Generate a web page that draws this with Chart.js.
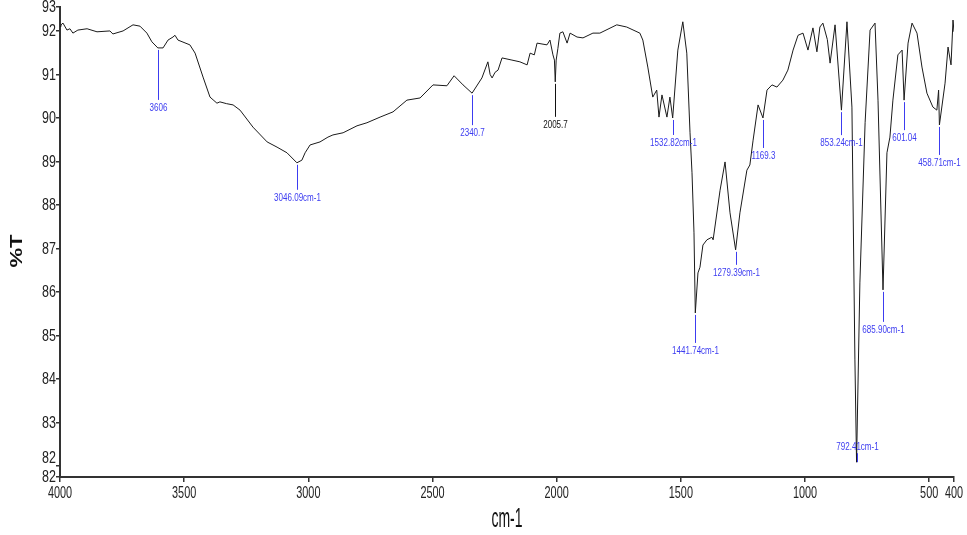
<!DOCTYPE html>
<html>
<head>
<meta charset="utf-8">
<script src="https://cdn.jsdelivr.net/npm/chart.js@4"></script>
<style>
  html, body { margin: 0; padding: 0; background: #fff; }
  #wrap { width: 967px; height: 535px; position: relative; }
</style>
</head>
<body>
<div id="wrap"><canvas id="irChart"></canvas></div>
<script>
// -- DATA
const wavenumbers = [
  4000, 3996, 3988, 3972, 3960, 3948, 3928, 3891, 3851, 3799, 3787, 3746, 3706, 3678, 3650, 3630,
  3606, 3585, 3565, 3545, 3537, 3525, 3477, 3456, 3424, 3396, 3380, 3368, 3356, 3330, 3303, 3275,
  3223, 3166, 3126, 3086, 3046.09, 3026, 3013, 2993, 2953, 2921, 2901, 2860, 2804, 2764, 2711, 2659,
  2603, 2550, 2498, 2442, 2413, 2377, 2340.7, 2301, 2277, 2268, 2260, 2248, 2236, 2220, 2180, 2148,
  2119, 2107, 2090, 2079, 2039, 2027, 2015, 2009, 2005.7, 2002, 1995, 1987, 1975, 1958, 1946, 1918,
  1894, 1854, 1826, 1758, 1718, 1665, 1653, 1633, 1613, 1597, 1588, 1576, 1556, 1544, 1532.82, 1512,
  1492, 1476, 1463, 1455, 1447, 1441.74, 1431, 1423, 1411, 1395, 1375, 1370, 1342, 1322, 1302, 1279.39,
  1262, 1234, 1222, 1209, 1189, 1169.3, 1153, 1133, 1113, 1089, 1069, 1048, 1028, 1008, 988, 968,
  952, 940, 928, 910, 899, 879, 853.24, 831, 811, 799, 792.41, 779, 758, 738, 718, 706,
  685.9, 670, 658, 646, 626, 609, 601.04, 585, 569, 549, 529, 509, 485, 469, 462, 458.71,
  436, 424, 412, 404, 400
];
const transmittance = [
  92.10, 92.14, 92.18, 92.02, 92.05, 91.95, 92.02, 92.05, 91.98, 92.00, 91.93, 92.00, 92.14, 92.11, 91.95, 91.75,
  91.61, 91.61, 91.79, 91.86, 91.90, 91.79, 91.68, 91.49, 90.94, 90.48, 90.40, 90.34, 90.37, 90.33, 90.30, 90.18,
  89.79, 89.45, 89.33, 89.20, 88.97, 89.03, 89.20, 89.38, 89.45, 89.56, 89.61, 89.66, 89.82, 89.89, 90.02, 90.14,
  90.41, 90.46, 90.76, 90.74, 90.97, 90.76, 90.57, 90.92, 91.29, 91.00, 90.92, 91.05, 91.10, 91.38, 91.33, 91.29,
  91.22, 91.49, 91.45, 91.72, 91.68, 91.79, 91.45, 91.33, 90.83, 91.33, 91.60, 91.95, 91.98, 91.72, 91.95, 91.86,
  91.84, 91.95, 91.95, 92.14, 92.09, 91.95, 91.79, 91.17, 90.48, 90.64, 90.02, 90.53, 90.02, 90.48, 90.00, 91.56,
  92.21, 91.49, 89.66, 88.74, 87.36, 85.52, 86.44, 86.57, 87.08, 87.20, 87.26, 87.20, 88.34, 88.99, 87.82, 86.97,
  87.82, 88.80, 88.92, 89.49, 90.30, 90.00, 90.64, 90.76, 90.71, 90.87, 91.10, 91.56, 91.90, 91.95, 91.56, 92.07,
  91.52, 92.09, 92.18, 91.80, 91.26, 92.14, 90.18, 92.21, 90.25, 84.44, 82.09, 86.21, 89.89, 92.02, 92.18, 90.41,
  86.05, 89.20, 89.56, 90.41, 91.45, 91.56, 90.41, 91.72, 92.18, 91.95, 91.17, 90.57, 90.25, 90.18, 90.64, 89.84,
  90.80, 91.63, 91.22, 92.25, 91.98
];

const xTicks = [4000, 3500, 3000, 2500, 2000, 1500, 1000, 500, 400];
const yTicks = [82, 83, 84, 85, 86, 87, 88, 89, 90, 91, 92];
const yMin = 81.75, yMax = 92.55;

const peakWavenumbers = [3606, 3046.09, 2340.7, 2005.7, 1532.82, 1441.74, 1279.39, 1169.3, 853.24, 792.41, 685.9, 601.04, 458.71];
const peakLabels = ['3606', '3046.09cm-1', '2340.7', '2005.7', '1532.82cm-1', '1441.74cm-1', '1279.39cm-1',
                    '1169.3', '853.24cm-1', '792.41cm-1', '685.90cm-1', '601.04', '458.71cm-1'];

// marker styling per peak (pixel lengths, negative = label above)
const markerLen   = [52, 27, 32, 35, 17, 30, 15, 30, 25, -12, 32, 30, 30];
const BLUE = '#3c3cf0';
const markerColor = peakLabels.map(l => l === '2005.7' ? '#111' : BLUE);

const points = wavenumbers.map((w, i) => ({ x: w, y: transmittance[i] }));

function valueAt(w) {
  let best = 0;
  wavenumbers.forEach((v, i) => { if (Math.abs(v - w) < Math.abs(wavenumbers[best] - w)) best = i; });
  return transmittance[best];
}

const FONT = '"Liberation Sans", Arial, sans-serif';

// condensed text: the source uses a very narrow face, so squeeze horizontally
function narrowText(ctx, text, x, y, sx, rot) {
  ctx.save();
  ctx.translate(x, y);
  if (rot) ctx.rotate(rot);
  ctx.scale(sx, 1);
  ctx.fillText(text, 0, 0);
  ctx.restore();
}

// -- AXIS TEXT (ticks + titles drawn narrow)
const axisTextPlugin = {
  id: 'axisText',
  afterDraw(chart) {
    const { ctx, scales: { x, y }, chartArea } = chart;
    ctx.save();
    ctx.fillStyle = '#222';
    ctx.textBaseline = 'middle';

    ctx.font = '16px ' + FONT;
    ctx.textAlign = 'center';
    xTicks.forEach(v => narrowText(ctx, String(v), x.getPixelForValue(v), chartArea.bottom + 17, 0.68));

    ctx.textAlign = 'right';
    [yMin].concat(yTicks, [yMax]).forEach(v => {
      let py = y.getPixelForValue(v);
      if (v === 82) py -= 9; // nudged up in the source to clear the axis-end label
      narrowText(ctx, String(Math.round(v)), chartArea.left - 4, py + 1, 0.78);
    });

    ctx.fillStyle = '#111';
    ctx.textAlign = 'center';
    ctx.font = '28px ' + FONT;
    narrowText(ctx, 'cm-1', (chartArea.left + chartArea.right) / 2, 519, 0.5);
    ctx.font = 'bold 17px ' + FONT;
    narrowText(ctx, '%T', 17, 251, 1.3, -Math.PI / 2);
    ctx.restore();
  }
};

// -- PEAK MARKERS
const peakPlugin = {
  id: 'peaks',
  afterDatasetsDraw(chart) {
    const { ctx, scales: { x, y } } = chart;
    ctx.save();
    ctx.font = '11px ' + FONT;
    ctx.textAlign = 'center';
    ctx.textBaseline = 'middle';
    ctx.lineWidth = 1;
    peakWavenumbers.forEach((w, i) => {
      const px = Math.round(x.getPixelForValue(w)) + 0.5;
      const tip = y.getPixelForValue(valueAt(w));
      const len = markerLen[i];
      ctx.strokeStyle = markerColor[i];
      ctx.fillStyle = markerColor[i];
      ctx.beginPath();
      if (len > 0) {
        ctx.moveTo(px, tip + 2);
        ctx.lineTo(px, tip + len);
        ctx.stroke();
        narrowText(ctx, peakLabels[i], px, tip + len + 8, 0.73);
      } else {
        ctx.moveTo(px, tip);
        ctx.lineTo(px, tip + len + 3);
        ctx.stroke();
        narrowText(ctx, peakLabels[i], px, tip + len - 3, 0.73);
      }
    });
    ctx.restore();
  }
};

// -- CHART
const ctx = document.getElementById('irChart').getContext('2d');
new Chart(ctx, {
  type: 'line',
  data: {
    datasets: [{
      data: points,
      borderColor: '#1a1a1a', borderWidth: 1,
      pointRadius: 0, tension: 0, fill: false
    }]
  },
  options: {
    responsive: true, maintainAspectRatio: false,
    animation: false,
    layout: { padding: { top: 7, right: 13, left: 0, bottom: 0 } },
    plugins: { legend: { display: false }, tooltip: { enabled: false } },
    scales: {
      x: {
        type: 'linear', reverse: true, min: 400, max: 4000,
        afterBuildTicks: s => { s.ticks = xTicks.map(v => ({ value: v })); },
        afterFit: s => { s.height = 58; },
        grid: { display: true, drawOnChartArea: false, drawTicks: true, tickLength: 5, color: '#333', lineWidth: 1.5 },
        border: { display: true, color: '#333', width: 2 },
        ticks: { display: false, autoSkip: false }
      },
      y: {
        min: yMin, max: yMax,
        afterBuildTicks: s => {
          s.ticks = [yMin].concat(yTicks, [yMax]).map(v => ({ value: v }));
        },
        afterFit: s => { s.width = 60; },
        grid: { display: true, drawOnChartArea: false, drawTicks: true, tickLength: 4, color: '#333', lineWidth: 1.5 },
        border: { display: true, color: '#333', width: 2 },
        ticks: { display: false, autoSkip: false }
      }
    }
  },
  plugins: [peakPlugin, axisTextPlugin]
});
</script>
</body>
</html>
